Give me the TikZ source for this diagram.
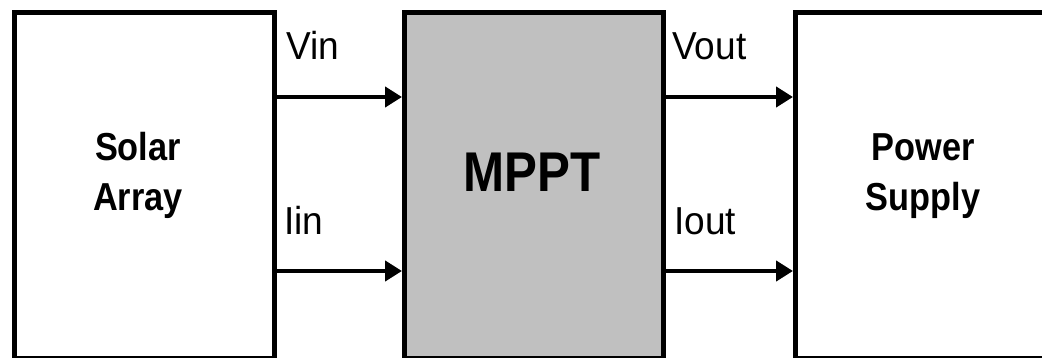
\documentclass[tikz,border=0pt]{standalone}
\usepackage{fontspec}
\setmainfont{Liberation Sans}
\newfontfamily\lblfont[FakeStretch=0.95]{Liberation Sans}
\newfontfamily\boldlblfont[FakeStretch=0.88]{Liberation Sans}
\usetikzlibrary{arrows.meta}
\definecolor{boxgray}{HTML}{C0C0C0}
\tikzset{
  blockbox/.style={draw=black, line width=4.6pt, minimum height=346pt, inner sep=0pt, anchor=north west},
  sig/.style={line width=4.6pt, -{Triangle[length=17pt,width=20pt]}},
  siglabel/.style={inner sep=0pt, anchor=base west, font=\lblfont\fontsize{39}{45}\selectfont},
  blocklabel/.style={inner sep=0pt, anchor=north, align=center, font=\boldlblfont\bfseries\fontsize{39}{50}\selectfont},
}
\begin{document}
\begin{tikzpicture}[x=1pt,y=-1pt]
\useasboundingbox (0,0) rectangle (1042,358);
\clip (0,0) rectangle (1042,358);
\fill[white] (0,0) rectangle (1042,358);
\node[blockbox, minimum width=260pt] (sol) at (12,10) {};
\node[blockbox, minimum width=259pt, fill=boxgray] (mppt) at (402,10) {};
\node[blockbox, minimum width=260pt] (ps) at (793,10) {};
\node[blocklabel] (soltxt) at (138,132) {Solar\\Array};
\node[blocklabel] (pstxt) at (923,133) {Power\\Supply};
\node[inner sep=0pt, anchor=base, font=\boldlblfont\bfseries\fontsize{56}{60}\selectfont] (mppttxt) at (532,192) {MPPT};
\coordinate (yv) at (0,97);
\coordinate (yi) at (0,271);
\draw[sig] (sol.east |- yv) -- (mppt.west |- yv);
\draw[sig] (sol.east |- yi) -- (mppt.west |- yi);
\draw[sig] (mppt.east |- yv) -- (ps.west |- yv);
\draw[sig] (mppt.east |- yi) -- (ps.west |- yi);
\node[siglabel] (vin) at (286,60) {Vin};
\node[siglabel] (iin) at (284,235) {Iin};
\node[siglabel] (vout) at (672,60) {Vout};
\node[siglabel] (iout) at (674,235) {Iout};
\end{tikzpicture}
\end{document}
